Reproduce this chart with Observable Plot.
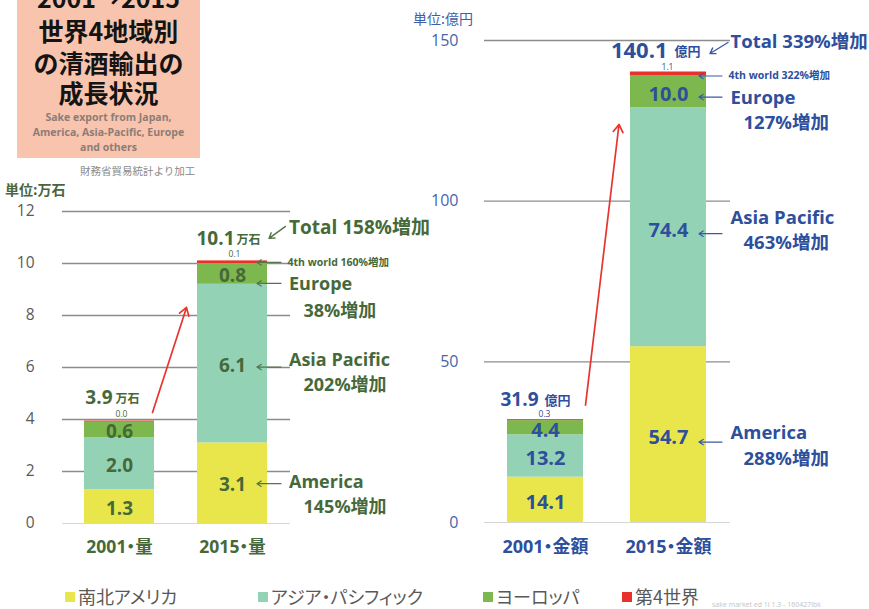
<!DOCTYPE html>
<html lang="ja">
<head>
<meta charset="utf-8">
<script src="https://cdn.jsdelivr.net/npm/d3@7"></script>
<script src="https://cdn.jsdelivr.net/npm/@observablehq/plot@0.6"></script>
<style>
html,body{margin:0;padding:0;background:#fff;}
#wrap{position:relative;width:869px;height:609px;overflow:hidden;background:#fff;font-family:"Open Sans","Noto Sans CJK JP",sans-serif;}
#wrap svg{position:absolute;left:0;top:0;}
#wrap svg text{font-feature-settings:"palt";}
.abs{position:absolute;white-space:nowrap;}
#titlebox{position:absolute;left:17px;top:0;width:183px;height:158px;background:#f8c4ad;overflow:hidden;}
.tl{position:absolute;left:0;width:100%;text-align:center;font-family:"Noto Sans CJK JP",sans-serif;font-weight:bold;font-size:25px;line-height:30px;color:#141414;}
.st{position:absolute;left:0;width:100%;text-align:center;font-family:"Open Sans",sans-serif;font-weight:bold;font-size:10.5px;line-height:14px;color:#8d7c76;}
.leg{position:absolute;top:584px;font-family:"Noto Sans CJK JP",sans-serif;font-size:18px;line-height:24px;color:#595959;white-space:nowrap;font-feature-settings:"palt";}
.sw{display:inline-block;width:10px;height:10px;margin-right:3px;vertical-align:middle;position:relative;top:-2px;}
</style>
</head>
<body>
<div id="wrap">
  <div id="titlebox">
    <div class="tl" style="top:-18px">2001→2015</div>
    <div class="tl" style="top:15px">世界4地域別</div>
    <div class="tl" style="top:47px">の清酒輸出の</div>
    <div class="tl" style="top:77px">成長状況</div>
    <div class="st" style="top:110px">Sake export from Japan,</div>
    <div class="st" style="top:125px">America, Asia-Pacific, Europe</div>
    <div class="st" style="top:140px">and others</div>
  </div>
  <div class="abs" style="left:80px;top:163px;font-family:'Noto Sans CJK JP';font-size:10.5px;color:#8a8a8a;">財務省貿易統計より加工</div>
  <div class="abs" style="left:5px;top:179px;font-family:'Noto Sans CJK JP';font-weight:bold;font-size:14px;color:#4a6640;">単位:万石</div>
  <div class="abs" style="left:413px;top:8px;font-family:'Noto Sans CJK JP';font-size:14px;color:#3d5ea8;">単位:億円</div>
  <div class="abs" style="left:712px;top:600px;font-family:'Open Sans';font-size:7px;color:#c4c4c4;">sake market ed 1l 1.3 - 160427lbk</div>
</div>
<script>
// ---------- data ----------
const regions = ["南北アメリカ", "アジア・パシフィック", "ヨーロッパ", "第4世界"];
const regionsEn = ["America", "Asia Pacific", "Europe", "4th world"];
const colors = ["#e9e64c", "#94d2b5", "#7cb84e", "#e8312a"];

const volCategories = ["2001・量", "2015・量"];
const vol2001 = [1.3, 2.0, 0.6, 0.04];
const vol2015 = [3.1, 6.1, 0.8, 0.1];
const volTotals = [3.9, 10.1];
const volGrowth = [145, 202, 38, 160];
const volTotalGrowth = 158;
const volTicks = [0, 2, 4, 6, 8, 10, 12];
const volUnit = "万石";

const valCategories = ["2001・金額", "2015・金額"];
const val2001 = [14.1, 13.2, 4.4, 0.3];
const val2015 = [54.7, 74.4, 10.0, 1.1];
const valTotals = [31.9, 140.1];
const valGrowth = [288, 463, 127, 322];
const valTotalGrowth = 339;
const valTicks = [0, 50, 100, 150];
const valUnit = "億円";

// ---------- helpers ----------
const fmt = d3.format(".1f");
const FONT = '"Open Sans","Noto Sans CJK JP",sans-serif';

function stackRows(categories, series) {
  const rows = [];
  categories.forEach((cat, i) => {
    let base = 0;
    regions.forEach((r, j) => {
      const v = series[i][j];
      rows.push({cat, region: r, key: regionsEn[j], idx: j, value: v, y1: base, y2: base + v, mid: base + v / 2});
      base += v;
    });
  });
  return rows;
}

function arrowMark(specs) {
  return (index, scales) => {
    const g = d3.create("svg:g");
    const bw = scales.x.bandwidth ? scales.x.bandwidth() : 0;
    const px = (p) => scales.x(p.cat) + bw / 2 + p.dx;
    const py = (p) => scales.y(p.y) + p.dy;
    for (const s of specs) {
      const x1 = px(s.from), y1 = py(s.from), x2 = px(s.to), y2 = py(s.to);
      const ang = Math.atan2(y2 - y1, x2 - x1);
      const a = Math.PI / 5.5, h = s.head;
      const hx1 = x2 - h * Math.cos(ang - a), hy1 = y2 - h * Math.sin(ang - a);
      const hx2 = x2 - h * Math.cos(ang + a), hy2 = y2 - h * Math.sin(ang + a);
      g.append("path")
        .attr("d", `M${x1},${y1}L${x2},${y2}M${hx1},${hy1}L${x2},${y2}L${hx2},${hy2}`)
        .attr("fill", "none").attr("stroke", s.color).attr("stroke-width", s.width)
        .attr("stroke-linecap", "round").attr("stroke-linejoin", "round");
    }
    return g.node();
  };
}

function buildChart(categories, series, totals, growth, totalGrowth, ticks, unit, L) {
  const rows = stackRows(categories, series);
  const [c0, c1] = categories;
  const tops = categories.map((cat, i) => ({cat, top: d3.sum(series[i]), total: totals[i]}));
  const right = rows.filter(d => d.cat === c1);
  const marks = [];

  // grid
  marks.push(Plot.ruleY(ticks.filter(t => t > 0), {stroke: L.gridColor, strokeWidth: 1.3}));
  marks.push(Plot.ruleY([0], {stroke: "#d6d6d6", strokeWidth: 1.2}));
  // y tick labels
  marks.push(Plot.text(ticks, {y: d => d, text: d => String(d), frameAnchor: "left", textAnchor: "end",
    dx: L.tickDx, fill: L.tickColor, fontSize: L.tickFont}));
  // bars
  marks.push(Plot.barY(rows, {x: "cat", y1: "y1", y2: "y2", fill: "region"}));
  // value labels
  marks.push(Plot.text(rows.filter(d => d.idx < 3), {x: "cat", y: "mid", text: d => fmt(d.value),
    dy: L.valueDy, fill: L.ink, fontSize: L.valueFont, fontWeight: "bold"}));
  // 4th world small labels
  marks.push(Plot.text(rows.filter(d => d.idx === 3), {x: "cat", y: "y2", text: d => fmt(d.value),
    dx: L.smallDx, dy: L.smallDy, fill: L.ink, fontSize: L.smallFont}));
  // totals with unit
  tops.forEach((t, i) => {
    const p = L.totalPos[i];
    marks.push(Plot.text([t], {x: "cat", y: "top", text: d => fmt(d.total), textAnchor: "end",
      dx: p.numDx, dy: p.dy, fill: L.ink, fontSize: p.numFont, fontWeight: "bold"}));
    marks.push(Plot.text([t], {x: "cat", y: "top", text: () => unit, textAnchor: "start",
      dx: p.unitDx, dy: p.dy + 1, fill: L.ink, fontSize: L.unitFont, fontWeight: "bold"}));
  });
  // total growth
  marks.push(Plot.text([tops[1]], {x: "cat", y: "top", text: () => `Total ${totalGrowth}%増加`, textAnchor: "start",
    dx: L.totalGrowth.dx, dy: L.totalGrowth.dy, fill: L.ink, fontSize: L.totalGrowth.font, fontWeight: "bold"}));
  // region annotations
  right.forEach((d) => {
    const j = d.idx;
    if (j < 3) {
      marks.push(Plot.text([d], {x: "cat", y: "mid", text: () => regionsEn[j], textAnchor: "start",
        dx: L.labelDx, dy: L.labelDy[j], fill: L.ink, fontSize: L.labelFont, fontWeight: "bold"}));
      marks.push(Plot.text([d], {x: "cat", y: "mid", text: () => `${growth[j]}%増加`, textAnchor: "start",
        dx: L.growthDx, dy: L.growthDy[j], fill: L.ink, fontSize: L.labelFont, fontWeight: "bold"}));
    } else {
      marks.push(Plot.text([d], {x: "cat", y: "y2", text: () => `4th world ${growth[j]}%増加`, textAnchor: "start",
        dx: L.fourthDx, dy: L.labelDy[j], fill: L.ink, fontSize: L.fourthFont, fontWeight: "bold"}));
    }
  });
  // category labels
  marks.push(Plot.text(categories, {x: d => d, frameAnchor: "bottom", dy: L.catDy,
    fill: L.ink, fontSize: L.catFont, fontWeight: "bold"}));
  // arrows
  const specs = [];
  specs.push({from: {cat: c0, y: tops[0].top, dx: L.red.fromDx, dy: L.red.fromDy},
              to: {cat: c1, y: tops[1].top, dx: L.red.toDx, dy: L.red.toDy},
              color: "#e8342c", width: 1.7, head: 9});
  specs.push({from: {cat: c1, y: tops[1].top, dx: L.totArrow.fromDx, dy: L.totArrow.fromDy},
              to: {cat: c1, y: tops[1].top, dx: L.totArrow.toDx, dy: L.totArrow.toDy},
              color: L.arrowInk, width: 1.4, head: 6});
  right.forEach(d => {
    const y = d.idx < 3 ? d.mid : d.y2;
    specs.push({from: {cat: c1, y, dx: L.regArrow.fromDx, dy: L.regArrow.dy[d.idx]},
                to: {cat: c1, y, dx: L.regArrow.toDx, dy: L.regArrow.dy[d.idx]},
                color: L.arrowInk, width: 1.2, head: 5});
  });
  marks.push(arrowMark(specs));

  return Plot.plot({
    width: 869, height: 609,
    marginLeft: L.marginLeft, marginRight: L.marginRight, marginTop: L.marginTop, marginBottom: L.marginBottom,
    x: {domain: categories, paddingInner: L.paddingInner, paddingOuter: L.paddingOuter, axis: null},
    y: {domain: [0, ticks[ticks.length - 1]], axis: null},
    color: {domain: regions, range: colors},
    style: {background: "transparent", overflow: "visible", fontFamily: FONT},
    marks
  });
}

// ---------- layouts ----------
const volLayout = {
  marginLeft: 62, marginRight: 579, marginTop: 211, marginBottom: 86,
  paddingInner: 0.377, paddingOuter: 0.193,
  ink: "#46693a", arrowInk: "#55744a", gridColor: "#8c8c8c", tickColor: "#5a5a5a", tickFont: 15.5, tickDx: -28,
  valueFont: 19, valueDy: 2, smallFont: 8.5, smallDx: 2, smallDy: -7,
  unitFont: 12,
  totalPos: [{numDx: -7, unitDx: -4, dy: -23, numFont: 19}, {numDx: 2, unitDx: 4, dy: -22, numFont: 19}],
  totalGrowth: {dx: 56.5, dy: -33, font: 19},
  labelDx: 56.5, growthDx: 71, fourthDx: 55, labelFont: 18, fourthFont: 10.5,
  labelDy: [-1, -3, 10, 2], growthDy: [24, 22, 37],
  catDy: 29, catFont: 17.5,
  red: {fromDx: 33.5, fromDy: -8, toDx: -45.5, toDy: 47},
  totArrow: {fromDx: 53.5, fromDy: -34, toDx: 37, toDy: -22},
  regArrow: {fromDx: 49, toDx: 25, dy: [1, 4, 10, 2]}
};

const valLayout = {
  marginLeft: 484, marginRight: 139, marginTop: 40, marginBottom: 87,
  paddingInner: 0.38, paddingOuter: 0.186,
  ink: "#2d4f9c", arrowInk: "#3b5aa3", gridColor: "#8c8c8c", tickColor: "#4766ad", tickFont: 16, tickDx: -26,
  valueFont: 20, valueDy: 3, smallFont: 8.5, smallDx: -1, smallDy: -5,
  unitFont: 13,
  totalPos: [{numDx: -7, unitDx: -1, dy: -20, numFont: 19}, {numDx: -1, unitDx: 6, dy: -21, numFont: 22}],
  totalGrowth: {dx: 62, dy: -29.5, font: 18.5},
  labelDx: 62, growthDx: 75, fourthDx: 60, labelFont: 18.5, fourthFont: 10.5,
  labelDy: [-2, -9, 6, 3.5], growthDy: [24, 16, 31],
  catDy: 30, catFont: 18,
  red: {fromDx: 40.5, fromDy: -14, toDx: -49, toDy: 53},
  totArrow: {fromDx: 60, fromDy: -29, toDx: 42, toDy: -18},
  regArrow: {fromDx: 54, toDx: 31, dy: [8, 7, 6, 4.5]}
};

const wrap = document.getElementById("wrap");
wrap.appendChild(buildChart(volCategories, [vol2001, vol2015], volTotals, volGrowth, volTotalGrowth, volTicks, volUnit, volLayout));
wrap.appendChild(buildChart(valCategories, [val2001, val2015], valTotals, valGrowth, valTotalGrowth, valTicks, valUnit, valLayout));

// legend
const legendLeft = [65, 258, 483, 622];
regions.forEach((r, i) => {
  const d = document.createElement("div");
  d.className = "leg";
  d.style.left = legendLeft[i] + "px";
  d.innerHTML = `<span class="sw" style="background:${colors[i]}"></span>${r}`;
  wrap.appendChild(d);
});
</script>
</body>
</html>
